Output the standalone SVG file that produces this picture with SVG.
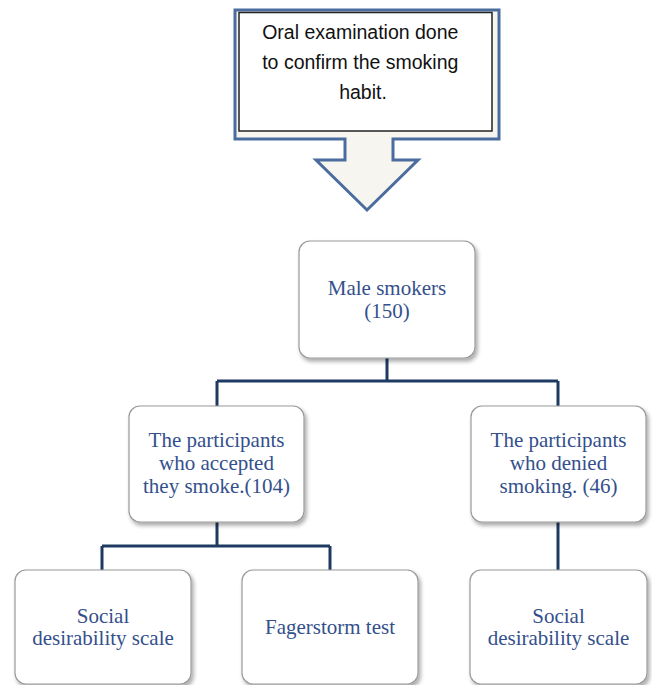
<svg xmlns="http://www.w3.org/2000/svg" width="652" height="685" viewBox="0 0 652 685">
<style>
.box{fill:#ffffff;stroke:#9a9a9a;stroke-width:1.2;filter:url(#sh)}
.t{font-family:"Liberation Serif","Times New Roman",serif;font-size:21px;fill:#34508c;text-anchor:middle}
.c{fill:none;stroke:#1f3a62;stroke-width:3}
</style>
<defs>
<filter id="sh" x="-10%" y="-10%" width="125%" height="125%">
<feGaussianBlur in="SourceAlpha" stdDeviation="2"/>
<feOffset dx="1.5" dy="2.5" result="b"/>
<feComponentTransfer><feFuncA type="linear" slope="0.35"/></feComponentTransfer>
<feMerge><feMergeNode/><feMergeNode in="SourceGraphic"/></feMerge>
</filter>
</defs>
<rect width="652" height="685" fill="#ffffff"/>
<g id="oral">
<path d="M235,10 H499 V139 H393 V160 H418 L367,210 L316,160 H345 V139 H235 Z" fill="#f6f5f0" stroke="#4a6c9e" stroke-width="3" stroke-linejoin="miter"/>
<rect x="239" y="12.5" width="253" height="118.5" fill="#ffffff" stroke="#222222" stroke-width="1.5"/>
<text font-family="'Liberation Sans',Arial,sans-serif" font-size="19.5" fill="#111111" text-anchor="middle">
<tspan x="363" y="39">Oral examination done</tspan>
<tspan x="363" y="69">to confirm the smoking</tspan>
<tspan x="363" y="99">habit.</tspan>
</text>
</g>
<g id="connectors">
<path class="c" d="M387,358 V381 M217,381 H558 M217,381 V406 M558,381 V406"/>
<path class="c" d="M217,522 V546 M102,546 H330 M102,546 V570 M330,546 V570"/>
<path class="c" d="M558,522 V570"/>
</g>
<g id="male">
<rect class="box" x="299" y="241" width="176" height="117" rx="11"/>
<text class="t"><tspan x="387" y="295">Male smokers</tspan><tspan x="387" y="318">(150)</tspan></text>
</g>
<g id="accepted">
<rect class="box" x="129" y="406" width="175" height="116" rx="11"/>
<text class="t"><tspan x="216.5" y="447">The participants</tspan><tspan x="216.5" y="470">who accepted</tspan><tspan x="216.5" y="493">they smoke.(104)</tspan></text>
</g>
<g id="denied">
<rect class="box" x="471" y="406" width="175" height="116" rx="11"/>
<text class="t"><tspan x="558.5" y="447">The participants</tspan><tspan x="558.5" y="470">who denied</tspan><tspan x="558.5" y="493">smoking. (46)</tspan></text>
</g>
<g id="sds1">
<rect class="box" x="15" y="570" width="176" height="114" rx="11"/>
<text class="t"><tspan x="103" y="623">Social</tspan><tspan x="103" y="645">desirability scale</tspan></text>
</g>
<g id="fager">
<rect class="box" x="242" y="570" width="176" height="114" rx="11"/>
<text class="t"><tspan x="330" y="634">Fagerstorm test</tspan></text>
</g>
<g id="sds2">
<rect class="box" x="470" y="570" width="177" height="114" rx="11"/>
<text class="t"><tspan x="558.5" y="623">Social</tspan><tspan x="558.5" y="645">desirability scale</tspan></text>
</g>
</svg>
